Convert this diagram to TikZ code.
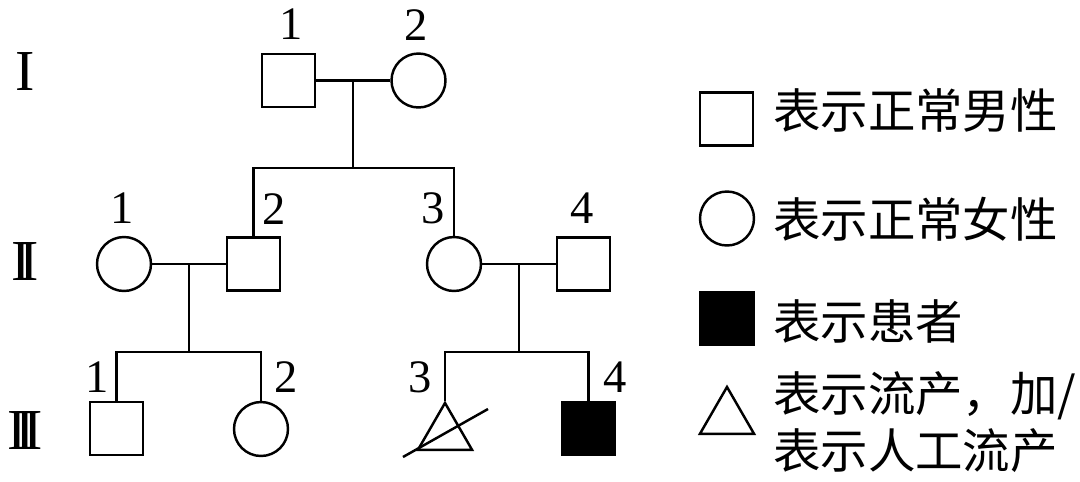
\documentclass[tikz,border=0pt]{standalone}
\usepackage{fontspec}
\setmainfont{Liberation Serif}
\newfontfamily\cjk{Noto Sans CJK SC}
\usetikzlibrary{shapes.geometric, positioning, calc}

\begin{document}
\begin{tikzpicture}[
  x=0.02cm, y=-0.02cm, line width=1.4pt,
  male/.style={rectangle, draw, minimum size=1.06cm, inner sep=0pt},
  female/.style={circle, draw, minimum size=1.08cm, inner sep=0pt},
  ill/.style={male, fill=black},
  lost/.style={regular polygon, regular polygon sides=3, draw,
               minimum size=1.25cm, inner sep=0pt},
  num/.style={font=\fontsize{26.5}{30}\selectfont, inner sep=0pt},
  gen/.style={font=\fontsize{33}{36}\selectfont, inner sep=0pt},
  ltxt/.style={font=\cjk\fontsize{27}{32.5}\selectfont, anchor=west,
               inner sep=0pt, align=left}
]

%% 畫布大小
\useasboundingbox (0,0) rectangle (1080,481);

%% 世代標記
\node[gen] (g1) at (25,72)  {I};
\node[gen] (g2) at (25,262) {I\kern-0.19em I};
\node[gen] (g3) at (25,431) {I\kern-0.19em I\kern-0.19em I};

%% 第 I 代
\node[male]   (i1) at (288.5,80.5) {};
\node[female] (i2) at (418.5,80.5) {};
\node[num] at (291,24) {1};
\node[num] at (416,25) {2};

\draw (i1) -- (i2);
\coordinate (m1) at ($(i1.east)!0.5!(i2.west)$);

%% 第 II 代
\node[female] (ii1) at (124,264)   {};
\node[male]   (ii2) at (253.5,264) {};
\node[female] (ii3) at (454,264)   {};
\node[male]   (ii4) at (583.5,264) {};
\node[num] at (122,208) {1};
\node[num] at (274,209) {2};
\node[num] at (433,208) {3};
\node[num] at (582,208) {4};

\draw (m1) -- ++(0,87.5) coordinate (s1);
\draw (ii2.north) |- (s1) -| (ii3.north);

\draw (ii1) -- (ii2);
\draw (ii3) -- (ii4);
\coordinate (m2) at ($(ii1.east)!0.5!(ii2.west)$);
\coordinate (m3) at ($(ii3.east)!0.5!(ii4.west)$);

%% 第 III 代
\node[male]   (iii1) at (116.5,428.5) {};
\node[female] (iii2) at (261,429)     {};
\node[lost]   (iii3) at (445,434.2)   {};
\node[ill]    (iii4) at (588.5,428.5) {};
\node[num] at (97,377)  {1};
\node[num] at (286,377) {2};
\node[num] at (420,377) {3};
\node[num] at (615,377) {4};

\draw (m2) -- ++(0,88) coordinate (s2);
\draw (iii1.north) |- (s2) -| (iii2.north);
\draw (m3) -- ++(0,88) coordinate (s3);
\draw (iii3.north) |- (s3) -| (iii4.north);

%% 人工流產斜線
\coordinate (cut1) at (403,457);
\coordinate (cut2) at (488,409);
\draw (cut1) -- (cut2);

%% 圖例
\node[male]   (lm) at (726.5,119)   {};
\node[female] (lf) at (727,218.5)   {};
\node[ill]    (la) at (727,318.5)   {};
\node[lost]   (ll) at (727,418.2)   {};

\node[ltxt] (tm) at (772,110) {表示正常男性};
\node[ltxt] (tf) at (772,219) {表示正常女性};
\node[ltxt] (ta) at (772,321) {表示患者};
\node[ltxt] (tl) at (772,422) {表示流产，加/\\表示人工流产};

\end{tikzpicture}
\end{document}
